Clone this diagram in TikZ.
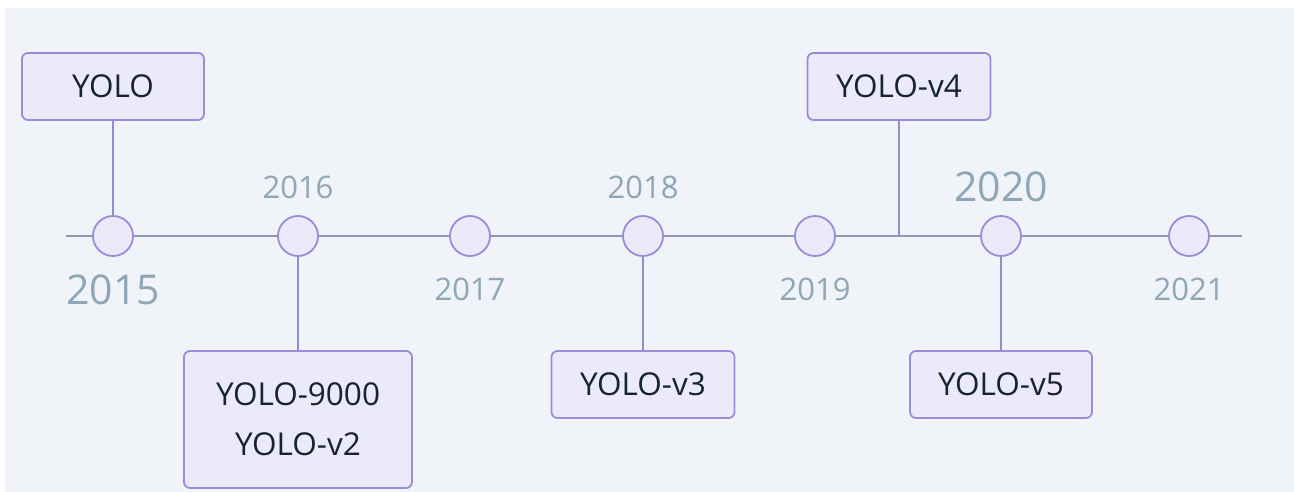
\documentclass[tikz,border=0pt]{standalone}
\usepackage{fontspec}
\setmainfont{Open Sans}
\definecolor{bgc}{HTML}{F0F3F8}
\definecolor{boxfill}{HTML}{ECE9F8}
\definecolor{boxline}{HTML}{9B8BD8}
\definecolor{tline}{HTML}{9197B8}
\definecolor{conn}{HTML}{9A8AD0}
\definecolor{yeartxt}{HTML}{8FA6B6}
\definecolor{boxtxt}{HTML}{15252B}
\begin{document}
\begin{tikzpicture}[x=1pt,y=-1pt,
  evbox/.style={draw=boxline, fill=boxfill, line width=1.8pt, rounded corners=6pt,
    inner sep=0pt, align=center, text=boxtxt, font=\fontsize{31.5}{50}\selectfont},
  yeardot/.style={circle, draw=boxline, fill=boxfill, line width=1.8pt, minimum size=40pt, inner sep=0pt},
  yearsmall/.style={text=yeartxt, inner sep=0pt, font=\fontsize{31}{36}\selectfont},
  yearbig/.style={text=yeartxt, inner sep=0pt, font=\fontsize{41}{46}\selectfont},
  connector/.style={draw=conn, line width=1.8pt}
]
\useasboundingbox (0,0) rectangle (1294,492);
\fill[white] (0,0) rectangle (1294,492);
\fill[bgc] (5,8) rectangle (1294,492);

\coordinate (tl) at (66,236);
\coordinate (tr) at (1242,236);
\draw[tline, line width=1.2pt] (tl) -- (tr);

% event boxes
\node[evbox, minimum width=182pt, minimum height=67pt] (yolo) at (113,86.5) {YOLO};
\node[evbox, minimum width=228pt, minimum height=137pt] (v2) at (298,419.5) {YOLO-9000\\YOLO-v2};
\node[evbox, minimum width=183pt, minimum height=67pt] (v3) at (643,384.5) {YOLO-v3};
\node[evbox, minimum width=183pt, minimum height=67pt] (v4) at (899,86.5) {YOLO-v4};
\node[evbox, minimum width=182pt, minimum height=67pt] (v5) at (1001,384.5) {YOLO-v5};

% year dots
\node[yeardot] (c2015) at (113,236) {};
\node[yeardot] (c2016) at (298,236) {};
\node[yeardot] (c2017) at (470,236) {};
\node[yeardot] (c2018) at (643,236) {};
\node[yeardot] (c2019) at (815,236) {};
\node[yeardot] (c2020) at (1001,236) {};
\node[yeardot] (c2021) at (1189,236) {};

\coordinate (v4foot) at (899,236);

% connectors
\draw[connector] (yolo.south) -- (c2015.north);
\draw[connector] (c2016.south) -- (v2.north);
\draw[connector] (c2018.south) -- (v3.north);
\draw[connector] (v4.south) -- (v4foot);
\draw[connector] (c2020.south) -- (v5.north);

% year labels
\node[yearbig] (y2015) at (113,290) {2015};
\node[yearsmall] (y2016) at (298,187) {2016};
\node[yearsmall] (y2017) at (470,289) {2017};
\node[yearsmall] (y2018) at (643,187) {2018};
\node[yearsmall] (y2019) at (815,289) {2019};
\node[yearbig] (y2020) at (1001,187) {2020};
\node[yearsmall] (y2021) at (1189,289) {2021};
\end{tikzpicture}
\end{document}
